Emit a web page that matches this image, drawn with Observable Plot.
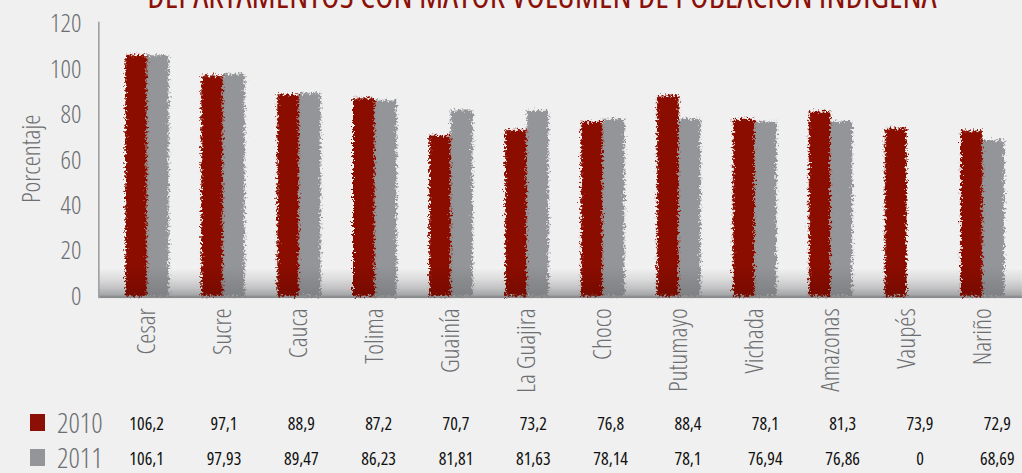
<!DOCTYPE html>
<html>
<head>
<meta charset="utf-8">
<script src="https://cdn.jsdelivr.net/npm/d3@7"></script>
<script src="https://cdn.jsdelivr.net/npm/@observablehq/plot@0.6"></script>
<style>
  html, body { margin: 0; padding: 0; background: #f0f0f0; }
  #wrap { position: relative; width: 1022px; height: 473px; overflow: hidden; background: #f0f0f0;
    font-family: "Open Sans", sans-serif; font-stretch: 75%; }
  #title { position: absolute; left: 0; width: 1084px; text-align: center; top: -22px; font-size: 34px; line-height: 34px;
    color: #8b1108; white-space: nowrap; font-stretch: 75%; font-weight: 500; }
  #chart { position: absolute; left: 0; top: 0; }
  .cell { position: absolute; font-size: 18px; line-height: 20px; color: #111; transform: translateX(-50%); white-space: nowrap; font-stretch: 75%; }
  .leg { position: absolute; font-size: 28px; line-height: 28px; color: #6d6e71; font-weight: 300; font-stretch: 75%; }
  .sw { position: absolute; width: 15px; height: 17px; }
  svg text { font-stretch: 75%; }
</style>
</head>
<body>
<div id="wrap">
  <div id="chart"></div>
  <div id="title">DEPARTAMENTOS CON MAYOR VOLUMEN DE POBLACIÓN INDÍGENA</div>
</div>
<script>
const categories = ["Cesar","Sucre","Cauca","Tolima","Guainía","La Guajira","Choco","Putumayo","Vichada","Amazonas","Vaupés","Nariño"];
const years = ["2010","2011"];
const values2010 = [106.2,97.1,88.9,87.2,70.7,73.2,76.8,88.4,78.1,81.3,73.9,72.9];
const values2011 = [106.1,97.93,89.47,86.23,81.81,81.63,78.14,78.1,76.94,76.86,0,68.69];
const labels2010 = ["106,2","97,1","88,9","87,2","70,7","73,2","76,8","88,4","78,1","81,3","73,9","72,9"];
const labels2011 = ["106,1","97,93","89,47","86,23","81,81","81,63","78,14","78,1","76,94","76,86","0","68,69"];
const yTicks = [0,20,40,60,80,100,120];
const colors = ["#8b0f05","#939598"];

const data = [];
categories.forEach((c, i) => {
  data.push({cat: c, year: "2010", value: values2010[i]});
  data.push({cat: c, year: "2011", value: values2011[i]});
});

const W = 1036, H = 473, ML = 108, MT = 24, MB = 173;
const chart = Plot.plot({
  width: W, height: H,
  marginLeft: ML, marginRight: 0, marginTop: MT, marginBottom: MB,
  style: {background: "transparent", color: "#6d6e71", fontSize: "26px", fontWeight: 300,
          fontFamily: "'Open Sans', sans-serif"},
  facet: {data, x: "cat"},
  fx: {domain: categories, padding: 0, label: null, axis: "bottom", tickRotate: -90, tickSize: 0, tickPadding: 12},
  x: {domain: years, axis: null, paddingInner: 0, paddingOuter: 0.68},
  y: {domain: [0, 120], ticks: yTicks, tickSize: 0, tickPadding: 28, label: null},
  color: {domain: years, range: colors},
  marks: [
    Plot.barY(data, {x: "year", y: "value", fill: "year"})
  ]
});
document.getElementById("chart").appendChild(chart);

// decorations: rough bar edges and 3D floor
const svg = d3.select(chart);
const defs = svg.insert("defs", ":first-child");
const f = defs.append("filter").attr("id", "rough").attr("x", "-20%").attr("y", "-5%").attr("width", "140%").attr("height", "110%");
f.append("feTurbulence").attr("type", "fractalNoise").attr("baseFrequency", "0.45").attr("numOctaves", 3).attr("seed", 7).attr("result", "n");
f.append("feDisplacementMap").attr("in", "SourceGraphic").attr("in2", "n").attr("scale", 9)
  .attr("xChannelSelector", "R").attr("yChannelSelector", "G");
const g = defs.append("linearGradient").attr("id", "floor").attr("x1", 0).attr("y1", 0).attr("x2", 0).attr("y2", 1);
[["0%", "#f4f4f4"], ["40%", "#eaeaeb"], ["70%", "#d8d8da"], ["90%", "#c0c1c3"], ["95%", "#a8a9ac"], ["100%", "#8e8f92"]]
  .forEach(([o, c]) => g.append("stop").attr("offset", o).attr("stop-color", c));
const g2 = defs.append("linearGradient").attr("id", "shade").attr("x1", 0).attr("y1", 0).attr("x2", 0).attr("y2", 1);
g2.append("stop").attr("offset", "0%").attr("stop-color", "#000").attr("stop-opacity", 0);
g2.append("stop").attr("offset", "100%").attr("stop-color", "#000").attr("stop-opacity", 0.15);
svg.selectAll("g[aria-label='bar']").attr("filter", "url(#rough)");

const yScale = chart.scale("y");
const y0 = yScale.apply(0), yf = yScale.apply(13), y120 = yScale.apply(120);
const NS = "http://www.w3.org/2000/svg";
const floor = document.createElementNS(NS, "rect");
floor.setAttribute("x", 100); floor.setAttribute("y", yf);
floor.setAttribute("width", W - 100); floor.setAttribute("height", y0 - yf + 2);
floor.setAttribute("fill", "url(#floor)");
chart.insertBefore(floor, defs.node().nextSibling);
svg.append("rect").attr("x", 100).attr("y", yf).attr("width", W - 100).attr("height", y0 - yf + 2)
  .attr("fill", "url(#shade)");
svg.append("line").attr("x1", 100).attr("x2", 100).attr("y1", y120 - 2).attr("y2", y0 + 2)
  .attr("stroke", "#a0a1a4").attr("stroke-width", 2);

// y axis title
svg.append("text").attr("transform", `translate(31,161) rotate(-90)`)
  .attr("text-anchor", "middle").attr("dy", "0.35em").attr("fill", "#6d6e71")
  .style("font-size", "26px").style("font-weight", 300).text("Porcentaje");

// data table under the chart
const band = d3.scaleBand().domain(categories).range([ML, W]).padding(0);
const wrap = document.getElementById("wrap");
[[labels2010, 413], [labels2011, 448]].forEach(([labs, top]) => {
  categories.forEach((c, i) => {
    const d = document.createElement("div");
    d.className = "cell";
    d.style.left = (band(c) + band.bandwidth() / 2) + "px";
    d.style.top = top + "px";
    d.textContent = labs[i];
    wrap.appendChild(d);
  });
});
years.forEach((yr, i) => {
  const sw = document.createElement("div");
  sw.className = "sw"; sw.style.left = "30px"; sw.style.top = (414 + i * 35) + "px"; sw.style.background = colors[i];
  wrap.appendChild(sw);
  const t = document.createElement("div");
  t.className = "leg"; t.style.left = "57px"; t.style.top = (408 + i * 35) + "px"; t.textContent = yr;
  wrap.appendChild(t);
});
</script>
</body>
</html>
